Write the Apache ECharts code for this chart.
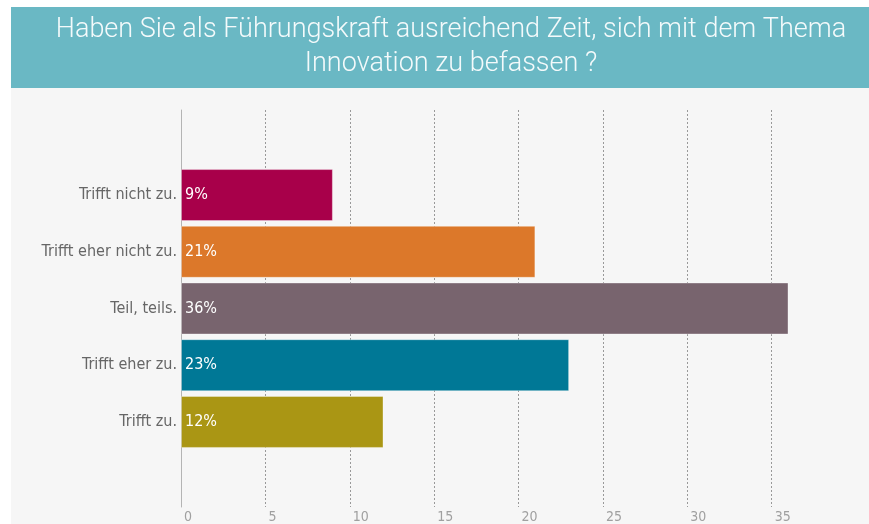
<!DOCTYPE html>
<html>
<head>
<meta charset="utf-8">
<script src="https://cdn.jsdelivr.net/npm/echarts@6/dist/echarts.min.js"></script>
<style>
	body{margin:0;background:#fff;}
	#main{width:869px;height:524px;}
</style>
</head>
<body>
<div id="main"></div>
<script>
// Antwortkategorien und Anteile (%)
var kategorien = ['Trifft nicht zu.', 'Trifft eher nicht zu.', 'Teil, teils.', 'Trifft eher zu.', 'Trifft zu.'];
var werte = [9, 21, 36, 23, 12];
var farben = ['#a8004a', '#dc782a', '#78646e', '#007896', '#aa9614'];
var titel = 'Haben Sie als Führungskraft ausreichend Zeit, sich mit dem Thema\nInnovation zu befassen ?';

var myChart;
window.onresize = function () {
	if (myChart) {
		myChart.resize();
	}
};

(function () {
	// leere Kategorie oben und unten, damit die Balken wie im Original sitzen
	var cats = [''].concat(kategorien).concat(['']);
	var daten = [{value: '-', itemStyle: {opacity: 0}}];
	for (var i = 0; i < werte.length; i++) {
		daten.push({value: werte[i], itemStyle: {color: farben[i]}});
	}
	daten.push({value: '-', itemStyle: {opacity: 0}});

	// Gitterlinien 0..40, die letzte (40) ist im Original nicht zu sehen
	var linienFarben = [];
	for (var k = 0; k <= 40; k += 5) {
		linienFarben.push(k >= 40 ? 'rgba(0,0,0,0)' : '#999');
	}

	var option = {
		animation: false,
		graphic: [
			{type: 'rect', left: 11, top: 88, shape: {width: 858, height: 436}, style: {fill: '#f6f6f6'}, z: -10},
			{type: 'rect', left: 11, top: 7, shape: {width: 858, height: 81}, style: {fill: '#6ab8c4'}, z: -10}
		],
		title: {
			text: titel,
			left: 446,
			top: 8,
			textAlign: 'center',
			textStyle: {
				color: '#f4fafb',
				fontFamily: 'Roboto',
				fontWeight: 300,
				fontSize: 27,
				lineHeight: 34
			}
		},
		grid: {left: 181, right: 13, top: 110, bottom: 15},
		xAxis: {
			type: 'value',
			min: 0,
			max: 40,
			interval: 5,
			axisLine: {show: false},
			axisTick: {show: false},
			axisLabel: {
				color: '#a0a0a0',
				fontFamily: 'DejaVu Sans Condensed',
				fontSize: 14,
				align: 'left',
				margin: 3,
				padding: [0, 0, 0, 3],
				formatter: function (v) { return v >= 40 ? '' : v; }
			},
			splitLine: {lineStyle: {color: linienFarben, type: [2, 2], width: 1}}
		},
		yAxis: {
			type: 'category',
			inverse: true,
			data: cats,
			axisLine: {show: true, lineStyle: {color: '#b4b4b4', width: 1}},
			axisTick: {show: false},
			axisLabel: {
				color: '#666',
				fontFamily: 'DejaVu Sans Condensed',
				fontSize: 16,
				margin: 4
			}
		},
		series: [{
			type: 'bar',
			data: daten,
			barWidth: 52,
			itemStyle: {borderColor: 'rgba(255,255,255,0.35)', borderWidth: 1},
			label: {
				show: true,
				position: 'insideLeft',
				distance: 4,
				color: '#fff',
				fontFamily: 'DejaVu Sans Condensed',
				fontSize: 16,
				formatter: function (p) { return p.value === '-' ? '' : p.value + '%'; }
			}
		}]
	};
	myChart = echarts.init(document.getElementById('main'));
	myChart.setOption(option);
})();
</script>
</body>
</html>
